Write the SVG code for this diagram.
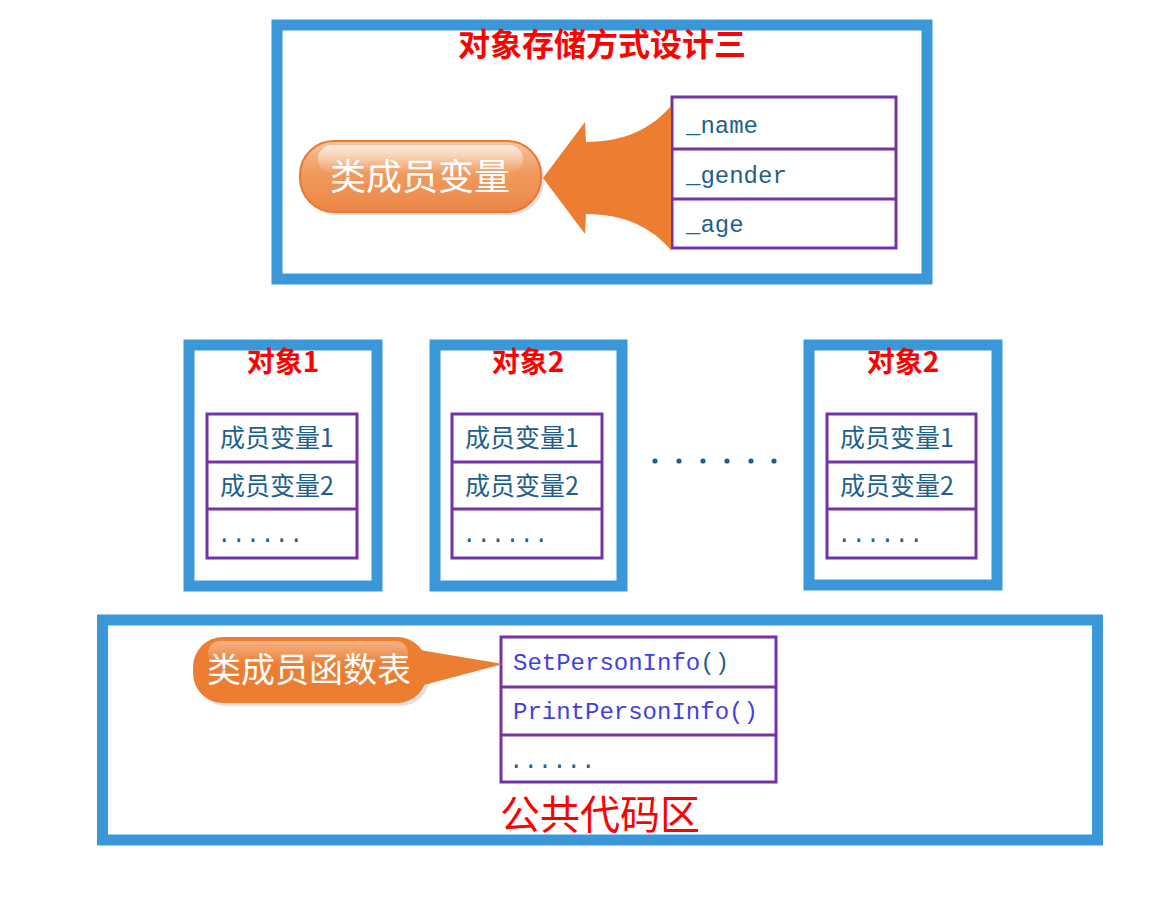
<svg xmlns="http://www.w3.org/2000/svg" width="1169" height="912" viewBox="0 0 1169 912">
<defs>
<linearGradient id="bub" x1="0" y1="0" x2="0" y2="1">
<stop offset="0" stop-color="#F7C39C"/>
<stop offset="0.45" stop-color="#F09A5E"/>
<stop offset="1" stop-color="#EC8748"/>
</linearGradient>
<linearGradient id="bubh" x1="0" y1="0" x2="0" y2="1">
<stop offset="0" stop-color="#ffffff" stop-opacity="0.7"/>
<stop offset="1" stop-color="#ffffff" stop-opacity="0"/>
</linearGradient>
<style>
.frame{fill:#fff;stroke:#3A98D8;stroke-width:11}
.tbl{fill:#fff;stroke:#7434A4;stroke-width:3}
.div{stroke:#7434A4;stroke-width:3}
.red{fill:#FF0000;font-family:"Noto Sans CJK SC",sans-serif;font-weight:bold}
.mem{fill:#1F5F8B;font-family:"Liberation Mono",monospace;font-size:24px}
.cjk{fill:#1F5F8B;font-family:"Noto Sans CJK SC",sans-serif;font-size:25px}
.fn{fill:#4040E6;font-family:"Liberation Mono",monospace;font-size:24px}
.wt{fill:#fff;font-family:"Noto Sans CJK SC",sans-serif}
.dot{fill:#1F5F8B}
</style>
</defs>
<rect width="1169" height="912" fill="#fff"/>

<g id="design">
<rect class="frame" x="277" y="25" width="650" height="254"/>
<text class="red" x="602" y="56" font-size="32" text-anchor="middle">对象存储方式设计三</text>
</g>

<g id="member-table">
<rect class="tbl" x="672" y="97" width="224" height="151"/>
<line class="div" x1="672" y1="149" x2="896" y2="149"/>
<line class="div" x1="672" y1="199" x2="896" y2="199"/>
<text class="mem" x="686" y="133">_name</text>
<text class="mem" x="686" y="183">_gender</text>
<text class="mem" x="686" y="232">_age</text>
</g>

<g id="member-bubble">
<rect x="303" y="144" width="241" height="71" rx="34" fill="#000" opacity="0.12"/>
<rect x="300" y="141" width="241" height="71" rx="34" fill="url(#bub)" stroke="#E8792F" stroke-width="2"/>
<rect x="318" y="145" width="205" height="28" rx="14" fill="url(#bubh)"/>
<text class="wt" x="420" y="190" font-size="36" text-anchor="middle">类成员变量</text>
</g>

<g id="obj1">
<rect class="frame" x="189" y="345" width="188" height="241"/>
<text class="red" x="283" y="372" font-size="28" text-anchor="middle">对象1</text>
<rect class="tbl" x="207" y="414" width="150" height="144"/>
<line class="div" x1="207" y1="462" x2="357" y2="462"/>
<line class="div" x1="207" y1="509" x2="357" y2="509"/>
<text class="cjk" x="220" y="447">成员变量1</text>
<text class="cjk" x="220" y="495">成员变量2</text>
<text class="mem" x="217" y="542">......</text>
</g>

<g id="obj2">
<rect class="frame" x="435" y="345" width="187" height="241"/>
<text class="red" x="528" y="372" font-size="28" text-anchor="middle">对象2</text>
<rect class="tbl" x="452" y="414" width="150" height="144"/>
<line class="div" x1="452" y1="462" x2="602" y2="462"/>
<line class="div" x1="452" y1="509" x2="602" y2="509"/>
<text class="cjk" x="465" y="447">成员变量1</text>
<text class="cjk" x="465" y="495">成员变量2</text>
<text class="mem" x="462" y="542">......</text>
</g>

<g id="ellipsis">
<circle class="dot" cx="655" cy="461" r="2.6"/>
<circle class="dot" cx="679" cy="461" r="2.6"/>
<circle class="dot" cx="703" cy="461" r="2.6"/>
<circle class="dot" cx="727" cy="461" r="2.6"/>
<circle class="dot" cx="751" cy="461" r="2.6"/>
<circle class="dot" cx="774" cy="461" r="2.6"/>
</g>

<g id="obj3">
<rect class="frame" x="809" y="345" width="188" height="240"/>
<text class="red" x="903" y="372" font-size="28" text-anchor="middle">对象2</text>
<rect class="tbl" x="827" y="414" width="149" height="144"/>
<line class="div" x1="827" y1="462" x2="976" y2="462"/>
<line class="div" x1="827" y1="509" x2="976" y2="509"/>
<text class="cjk" x="840" y="447">成员变量1</text>
<text class="cjk" x="840" y="495">成员变量2</text>
<text class="mem" x="837" y="542">......</text>
</g>

<g id="code-area">
<rect class="frame" x="102.5" y="620" width="995" height="220"/>
<text class="red" x="600" y="829" font-size="40" text-anchor="middle" style="font-weight:normal">公共代码区</text>
</g>

<g id="func-table">
<rect class="tbl" x="501" y="637" width="275" height="145"/>
<line class="div" x1="501" y1="687" x2="776" y2="687"/>
<line class="div" x1="501" y1="735" x2="776" y2="735"/>
<text class="fn" x="513" y="670">SetPersonInfo<tspan fill="#1F5F8B">()</tspan></text>
<text class="fn" x="513" y="719">PrintPersonInfo()</text>
<text class="mem" x="509" y="768">......</text>
</g>

<g id="func-bubble">
<rect x="196" y="640" width="234" height="66" rx="30" fill="#000" opacity="0.12"/>
<rect x="193" y="637" width="234" height="66" rx="30" fill="#ED7D31"/>
<rect x="208" y="641" width="200" height="24" rx="12" fill="url(#bubh)" opacity="0.6"/>
<text class="wt" x="309" y="682" font-size="34" text-anchor="middle">类成员函数表</text>
</g>

<g id="connectors">
<path d="M543,178 L585,122 L586,142 C625,142 652,128 671,106 L671,250 C652,228 625,214 586,214 L585,234 Z" fill="#ED7D31"/>
<path d="M420,650 L503,664 L420,686 Z" fill="#ED7D31"/>
</g>
</svg>
